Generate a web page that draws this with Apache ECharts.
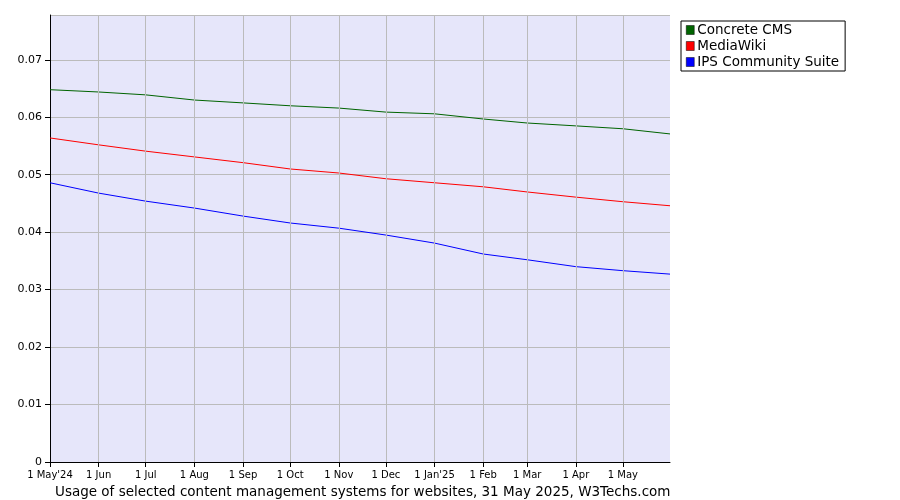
<!DOCTYPE html>
<html><head><meta charset="utf-8">
<script src="https://cdn.jsdelivr.net/npm/echarts@6/dist/echarts.min.js"></script>
<style>html,body{margin:0;padding:0;background:#fff}#c{width:900px;height:500px}</style>
</head><body><div id="c"></div>
<script>
const days = [0,31,61,92,123,153,184,214,245,276,304,335,365,395];
const tickLabels = ["1 May'24","1 Jun","1 Jul","1 Aug","1 Sep","1 Oct","1 Nov","1 Dec","1 Jan'25","1 Feb","1 Mar","1 Apr","1 May"];
const concrete = [0.0648,0.0644,0.0639,0.0630,0.0625,0.0620,0.0616,0.0609,0.0606,0.0597,0.0590,0.0585,0.0580,0.0571];
const mediawiki = [0.0564,0.0552,0.0541,0.0531,0.0521,0.0510,0.0503,0.0493,0.0486,0.0479,0.0470,0.0461,0.0453,0.0446];
const ips = [0.0486,0.0468,0.0454,0.0442,0.0428,0.0416,0.0407,0.0395,0.0381,0.0362,0.0352,0.0340,0.0333,0.0327];
const names = ["Concrete CMS","MediaWiki","IPS Community Suite"];
const colors = ["#006400","#ff0000","#0000ff"];
const tickDays = days.slice(0,13);
const font = "DejaVu Sans";
const chart = echarts.init(document.getElementById('c'));
const mk = (arr)=>days.map((d,i)=>[d,arr[i]]);
chart.setOption({
  animation:false,
  textStyle:{fontFamily:font},
  title:{text:"Usage of selected content management systems for websites, 31 May 2025, W3Techs.com",left:50,top:480,textStyle:{fontSize:13.5,fontWeight:'normal',color:'#000',fontFamily:font}},
  legend:{orient:'vertical',left:681,top:21,itemWidth:8,itemHeight:9,itemGap:2,padding:[2,6,2,5],borderColor:'#000',borderWidth:1,
    textStyle:{fontSize:13.5,lineHeight:11,color:'#000',fontFamily:font,padding:[0,0,0,-2]},icon:'rect',
    data:names.map((n,i)=>({name:n,itemStyle:{color:colors[i],borderColor:'#000',borderWidth:0.5}}))},
  grid:{left:50,top:15,width:620,height:447,backgroundColor:'#e6e6fa',show:true,borderWidth:0},
  xAxis:{type:'value',min:0,max:395,
    axisLine:{lineStyle:{color:'#000'}},
    axisTick:{customValues:tickDays,lineStyle:{color:'#000'}},
    splitLine:{show:false},
    axisLabel:{customValues:tickDays,fontSize:10,color:'#000',formatter:v=>tickLabels[tickDays.indexOf(v)]}},
  yAxis:{type:'value',min:0,max:0.0778,interval:0.01,
    axisLine:{show:true,lineStyle:{color:'#000'}},axisTick:{show:true,lineStyle:{color:'#000'}},
    splitLine:{lineStyle:{color:'#bbb'}},
    axisLabel:{fontSize:11,color:'#000',formatter:v=>v===0?'0':v.toFixed(2),showMaxLabel:false}},
  series:[
    {type:'line',name:'grid',data:[],markLine:{silent:true,symbol:'none',label:{show:false},lineStyle:{color:'#bbb',type:'solid',width:1},data:tickDays.slice(1).map(d=>({xAxis:d}))}},
    ...[concrete,mediawiki,ips].map((a,i)=>({type:'line',name:names[i],data:mk(a),showSymbol:false,lineStyle:{width:1,color:colors[i]},itemStyle:{color:colors[i]}}))
  ]
});
</script></body></html>
